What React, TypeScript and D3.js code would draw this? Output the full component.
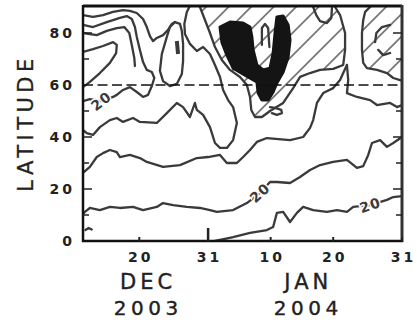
import React from "react";
import * as d3 from "d3";

type P = [number, number]; // [days since 11 Dec 2003, latitude]

// x ticks (days since 11 Dec 2003) and labels
const xTickDays = [9, 20, 30, 40, 51];
const xTickLabels = ["20", "31", "10", "20", "31"];
const yTickValues = [0, 20, 40, 60, 80];
const yMinorTicks = [10, 20, 30, 40, 50, 70, 80];
const monthNames = ["DEC", "JAN"];
const monthYears = ["2003", "2004"];
const monthCenters = [10.1, 35.7];
const dashedLat = 60;

// contour lines
const contourL0: P[] = [[21.1,0],[21.9,0.4],[24,1.5],[26.7,3.1],[29.4,4.2],[30.4,5.4],[31,10.8],[32,11.2],[33.1,7.3],[34.2,10.8],[35.2,13.1],[36.8,11.9],[39,11.2],[40.6,11.9],[42.2,11.2],[43.2,13.1],[45.9,13.8],[48.6,15.8],[49.6,16.9],[51,17.3]];
const contourL1: P[] = [[0,10.4],[0.3,11.2],[1.1,12.7],[2.7,11.9],[4.3,13.1],[5.9,12.7],[8,13.1],[9.6,11.9],[11.8,13.1],[12.8,14.6],[14.4,13.8],[16.6,13.1],[18.7,12.7],[20.3,11.9],[21.4,11.2],[24,11.9],[26.2,14.6],[28.3,18.5],[29.9,22.7],[31,22.7],[33.1,22.3],[34.7,24.6],[36.3,27.3],[37.9,29.2],[40,30.4],[42.2,31.2],[43.8,28.1],[44.8,28.8],[45.6,33.1],[46.2,37.7],[47.5,38.8],[48.6,36.2],[49.6,37.7],[51,40]];
const contourL2: P[] = [[0,26.2],[1.1,28.5],[2.2,32.3],[3.2,33.8],[4.3,35],[5.4,34.2],[5.9,32.3],[7.5,33.1],[9.1,31.9],[10.2,30.4],[12.8,28.5],[15.5,29.2],[18.2,31.9],[20,32.3],[21.9,33.1],[23,30],[24.6,30],[25.6,32.3],[26.7,35],[27.8,38.1],[29.4,39.6],[33.1,38.8],[35.2,40],[36.3,43.5],[36.8,46.5],[37.4,53.1],[38.4,56.9],[40,58.8],[41.1,61.9],[41.6,64.6],[42.2,67.7]];
const contourL3: P[] = [[42.2,67.7],[42.4,61.9],[42.2,56.9],[43.8,55.4],[45.9,54.2],[47,52.3],[49.1,53.1],[50.2,51.5],[51,52.3]];
const contourL40: P[] = [[0,42.7],[0.6,41.5],[1.6,40.8],[2.7,43.8],[4.3,46.5],[5.4,47.3],[6.4,45.8],[8,47.3],[9.1,45.8],[11.8,45.4],[13.4,49.2],[15,53.1],[16,51.5],[17.1,47.7],[17.9,53.1],[18.2,50.4],[19.2,48.5],[20.3,43.8],[21.1,37.7],[21.9,35.8],[23,35.8],[24,38.8],[24.6,45.4],[24,51.5],[23.2,54.2],[22.4,58.1],[21.9,63.1],[21.1,67.7],[20.3,71.9],[19.2,74.6],[18.2,73.1],[17.1,75.8],[16.3,79.6],[16.2,83.5],[16.6,88.1],[17,90]];
const contourT1: P[] = [[0,86.9],[1.6,86.2],[3.2,86.9],[4.8,88.1],[6.4,88.8],[7.5,88.5],[8.6,87.7],[9.6,85.4],[10.2,82.3],[10.7,78.8],[11.2,76.9],[11.8,78.1],[12.8,79.2],[13.6,81.2],[14.2,83.5],[14.7,84.2]];
const contour20: P[] = [[0,83.1],[1.6,82.3],[3.8,84.2],[5.9,85.8],[7,86.5],[7.8,85.4],[8.3,82.3],[8.6,78.5],[9.1,73.5],[9.6,68.8],[10.2,65.8],[11,65],[11.4,62.7],[11,59.6],[10.4,56.2],[9.6,55.4],[8.6,57.3],[7.5,59.2],[6.4,58.1],[5.4,56.2],[4.8,55.4],[2.9,53.8],[1.1,54.6],[0,53.8]];
const contourT3: P[] = [[0,80],[2.2,79.2],[3.8,80.8],[5.4,81.9],[6.6,82.3],[7.4,80],[7.8,75.4],[8.2,70.4],[8.3,67.3]];
const contourT4: P[] = [[0,72.7],[1.6,73.8],[3.2,75],[4.8,76.5],[5.4,75.4],[5.3,72.3],[4.3,68.5],[2.7,64.6],[1.1,61.2],[0,59.2]];
const contourLoop: P[] = [[12.8,61.5],[12.3,65.4],[12.6,71.9],[13.4,78.5],[13.9,82.3],[14.7,84.2],[15.5,83.5],[15.8,80.8],[16,75.8],[16,69.2],[15.8,64.2],[15,60.4],[13.9,59.6],[12.8,61.5]];
const loopMark: P[] = [[15,76.9],[15.2,71.9]];
const smallU: P[] = [[36.8,90],[37.3,86.9],[37.9,84.6],[39,83.8],[39.7,85.8],[39.8,89.6]];
const smallCap: P[] = [[28.6,75.4],[28.6,81.9],[29.1,83.5],[29.6,81.9],[29.8,74.6]];
const smallSquiggle: P[] = [[29.9,51.5],[30.7,51.2],[31.7,50.4],[31.8,49.2],[31,48.5],[30.2,49.2]];
const arcC1: P[] = [[49.1,83.1],[47.8,82.3],[46.9,80],[46.7,76.5]];
const arcC2: P[] = [[47.2,73.5],[48,71.5],[49.1,72.3]];
const cornerMark: P[] = [[0.4,4.2],[0.9,5.0],[1.4,4.4]];

// hatched regions (boundary, open along the frame)
const hatchMiddle: P[] = [[18.7,90],[19.5,85],[20.3,80],[21.1,74.6],[22.2,69.6],[23.5,65.8],[25.1,63.1],[26.2,60],[26.7,55.4],[26.9,50.4],[27.5,47.7],[28.6,47.7],[29.9,50],[32,53.1],[33.6,58.8],[34.7,63.1],[36.3,64.6],[37.9,65.8],[40,66.2],[41.6,67.7],[41.9,73.5],[41.9,80],[41.1,86.9],[40.3,90]];
const hatchRight: P[] = [[45.9,90],[45.1,88.1],[44.8,85],[44.6,80],[44.6,73.5],[44.8,68.5],[45.4,66.5],[47,65.8],[48.6,64.6],[49.6,62.7],[50.7,61.9],[51,61.5]];

// dense black feature
const blob: P[] = [[21.9,82.3],[23.5,84.2],[25.6,83.8],[26.7,82.3],[27,78.5],[27.2,73.5],[27.8,67.7],[28.8,65.8],[29.9,66.5],[30.4,72.3],[30.7,80],[31,86.2],[32,86.5],[32.8,83.1],[33.1,77.3],[32.8,70.8],[32,65],[31,60.8],[30.4,57.3],[29.6,54.2],[28.6,54.2],[28,56.9],[27.8,61.2],[25.9,63.8],[24,66.5],[23,71.5],[22.2,76.5]];

// contour value labels
const contourLabelText = ["20", "20", "20"];
const contourLabelPts: P[] = [[2.9,53.8],[28.3,18.5],[45.9,13.8]];
const contourLabelAngles = [-38, -42, -18];

export default function App() {
  const x = d3.scaleLinear().domain([0, 51]).range([83, 402]);
  const y = d3.scaleLinear().domain([0, 90]).range([241, 7]);
  const line = d3.line<P>().x((p) => x(p[0])).y((p) => y(p[1]));

  const x0 = x(0), x1 = x(51), y0 = y(0), y1 = y(90);

  const middlePoly = line([...hatchMiddle])! + "Z";
  const rightPoly = line([...hatchRight, [51, 90]])! + "Z";

  const hatchLines: number[] = [];
  for (let c = 213 - 22.5 * 12; c < 760; c += 22.5) hatchLines.push(c);

  const contours = [contourL0, contourL1, contourL2, contourL3, contourL40, contourT1, contour20, contourT3, contourT4, contourLoop, smallU, smallCap, smallSquiggle, arcC1, arcC2, hatchMiddle, hatchRight, cornerMark];
  const lineColor = "#3a3a3a";

  return (
    <svg width={417} height={320} style={{ position: "absolute", left: 0, top: 0, background: "#fff" }}>
      <defs>
        <clipPath id="cm"><path d={middlePoly} /></clipPath>
        <clipPath id="cr"><path d={rightPoly} /></clipPath>
        <clipPath id="plot"><rect x={x0} y={y1} width={x1 - x0} height={y0 - y1} /></clipPath>
      </defs>

      {[["cm"], ["cr"]].map(([id]) => (
        <g key={id} clipPath={`url(#${id})`}>
          {hatchLines.map((c, i) => (
            <line key={i} x1={c} y1={0} x2={c - 320} y2={320} stroke="#777" strokeWidth={1.8} />
          ))}
        </g>
      ))}

      <g clipPath="url(#plot)">
        <path d={line(blob)! + "Z"} fill="#141414" stroke="#141414" strokeWidth={3} strokeLinejoin="round" />
        {contours.map((c, i) => (
          <path key={i} d={line(c)!} fill="none" stroke={lineColor} strokeWidth={2.3} strokeLinejoin="round" strokeLinecap="round" />
        ))}
        <path d={line(loopMark)!} stroke={lineColor} strokeWidth={4} />
      </g>

      <line x1={x0} x2={x1} y1={y(dashedLat)} y2={y(dashedLat)} stroke="#111" strokeWidth={1.6} strokeDasharray="10,4.5" />

      {contourLabelPts.map((p, i) => (
        <text key={i} x={x(p[0])} y={y(p[1])} transform={`rotate(${contourLabelAngles[i]} ${x(p[0])} ${y(p[1])})`}
          textAnchor="middle" dominantBaseline="central" fontFamily="DejaVu Sans" fontWeight="bold" fontSize={14}
          fill={lineColor} stroke="#fff" strokeWidth={3} paintOrder="stroke" letterSpacing={1}>
          {contourLabelText[i]}
        </text>
      ))}

      {/* frame */}
      <line x1={x0} x2={x1} y1={y1 - 1} y2={y1 - 1} stroke="#111" strokeWidth={3} />
      <line x1={x0} x2={x0} y1={y1 - 2} y2={y0 + 1} stroke="#111" strokeWidth={2.5} />
      <line x1={x1} x2={x1} y1={y1 - 2} y2={y0 + 1} stroke="#333" strokeWidth={3} />
      <line x1={x0 - 1} x2={x1 + 1} y1={y0} y2={y0} stroke="#111" strokeWidth={2.5} />

      {yMinorTicks.map((v) => (
        <g key={v}>
          <line x1={x0} x2={x0 + (v % 20 === 0 ? 9 : 6)} y1={y(v)} y2={y(v)} stroke="#222" strokeWidth={1.5} />
          <line x1={x1} x2={x1 - (v % 20 === 0 ? 9 : 6)} y1={y(v)} y2={y(v)} stroke="#222" strokeWidth={1.5} />
        </g>
      ))}
      {xTickDays.map((d, i) => (
        <line key={i} x1={x(d)} x2={x(d)} y1={y0} y2={y0 - (d === 20 ? 13 : 4)} stroke="#222" strokeWidth={d === 20 ? 2.5 : 2} />
      ))}

      {yTickValues.map((v) => (
        <text key={v} x={75} y={y(v)} textAnchor="end" dominantBaseline="central" fontFamily="DejaVu Sans" fontWeight="bold" fontSize={14} letterSpacing={3} fill="#222">
          {v}
        </text>
      ))}
      {xTickDays.map((d, i) => (
        <text key={i} x={x(d) + 1.5} y={262} textAnchor="middle" fontFamily="DejaVu Sans" fontWeight="bold" fontSize={14} letterSpacing={3} fill="#222">
          {xTickLabels[i]}
        </text>
      ))}
      {monthCenters.map((d, i) => (
        <g key={i}>
          <text x={x(d) + 2} y={289} textAnchor="middle" fontFamily="DejaVu Sans" fontSize={21} letterSpacing={4} fill="#222" stroke="#222" strokeWidth={0.4}>
            {monthNames[i]}
          </text>
          <text x={x(d) + 2} y={315} textAnchor="middle" fontFamily="DejaVu Sans" fontSize={20} letterSpacing={4.5} fill="#222" stroke="#222" strokeWidth={0.4}>
            {monthYears[i]}
          </text>
        </g>
      ))}
      <text transform="translate(33,123) rotate(-90)" textAnchor="middle" fontFamily="DejaVu Sans" fontSize={21} letterSpacing={4.5} fill="#222" stroke="#222" strokeWidth={0.3}>
        LATITUDE
      </text>
    </svg>
  );
}
